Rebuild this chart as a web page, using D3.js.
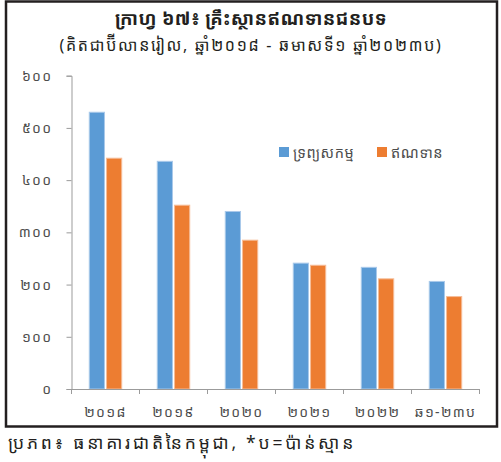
<!DOCTYPE html>
<html>
<head>
<meta charset="utf-8">
<script src="https://cdn.jsdelivr.net/npm/d3@7"></script>
<style>
  html, body { margin: 0; padding: 0; background: #fff; }
  svg { display: block; }
  text { font-family: "Noto Sans Khmer", "Khmer OS", "Noto Serif Khmer", "Noto Sans", sans-serif; }
</style>
</head>
<body>
<svg id="chart" width="501" height="462"></svg>
<script>
// Categories (Khmer years), series values in billion riel
const categories = ["២០១៨", "២០១៩", "២០២០", "២០២១", "២០២២", "ឆ១-២៣ប"];
const assets = [530, 436, 340, 241, 233, 206];
const loans = [442, 352, 285, 237, 211, 177];
const seriesNames = ["ទ្រព្យសកម្ម", "ឥណទាន"];
const seriesColors = ["#5b9bd5", "#ed7d31"];
const yTicks = [0, 100, 200, 300, 400, 500, 600];
const yTickLabels = ["០", "១០០", "២០០", "៣០០", "៤០០", "៥០០", "៦០០"];

const title = "ក្រាហ្វ ៦៧៖ គ្រឹះស្ថានឥណទានជនបទ";
const subtitle = "(គិតជាប៊ីលានរៀល, ឆ្នាំ២០១៨ - ឆមាសទី១ ឆ្នាំ២០២៣ប)";
const source = "ប្រភព៖ ធនាគារជាតិនៃកម្ពុជា, *ប=ប៉ាន់ស្មាន";

const svg = d3.select("#chart");

// outer frame
svg.append("rect")
  .attr("x", 6).attr("y", 1.5)
  .attr("width", 491).attr("height", 425)
  .attr("fill", "none").attr("stroke", "#231f20").attr("stroke-width", 2.5);

svg.append("text")
  .attr("x", 251).attr("y", 25)
  .attr("text-anchor", "middle")
  .attr("font-size", 18.5).attr("font-weight", "bold").attr("fill", "#231f20")
  .attr("letter-spacing", 0.4)
  .text(title);

svg.append("text")
  .attr("x", 251).attr("y", 51)
  .attr("text-anchor", "middle")
  .attr("font-size", 16).attr("fill", "#231f20")
  .attr("letter-spacing", 1.7)
  .text(subtitle);

const plot = { left: 71.5, right: 479.5, top: 75.7, bottom: 389 };

const x = d3.scaleBand()
  .domain(categories)
  .range([plot.left, plot.right])
  .paddingInner(0).paddingOuter(0);

const xInner = d3.scaleBand()
  .domain([0, 1])
  .range([0, x.bandwidth()])
  .paddingInner(0.12)
  .paddingOuter(1.03);

const y = d3.scaleLinear().domain([0, 600]).range([plot.bottom, plot.top]);

// bars
const groups = svg.append("g").selectAll("g")
  .data(categories)
  .join("g")
  .attr("transform", d => `translate(${x(d)},0)`);

groups.selectAll("rect")
  .data((d, i) => [assets[i], loans[i]])
  .join("rect")
  .attr("x", (d, j) => xInner(j))
  .attr("width", xInner.bandwidth())
  .attr("y", d => y(d))
  .attr("height", d => y(0) - y(d))
  .attr("fill", (d, j) => seriesColors[j])
  .attr("stroke", (d, j) => j === 0 ? "#a9c9ea" : "#f6bd98")
  .attr("stroke-width", 1);

const tickFont = "\"Noto Sans Khmer\", \"Khmer OS\", sans-serif";

// y axis
const yAxis = d3.axisLeft(y)
  .tickValues(yTicks)
  .tickFormat((d, i) => yTickLabels[i])
  .tickSize(5)
  .tickPadding(14);

const gy = svg.append("g")
  .attr("transform", `translate(${plot.left},0)`)
  .call(yAxis);
gy.select(".domain").attr("stroke", "#9b9b9b");
gy.selectAll(".tick line").attr("stroke", "#9b9b9b");
gy.selectAll(".tick text")
  .attr("font-size", 14).attr("fill", "#4d4d4d")
  .attr("letter-spacing", 1.3)
  .style("font-family", tickFont);

// x axis with ticks on category boundaries
const xAxis = d3.axisBottom(x).tickSize(0).tickPadding(18);
const gx = svg.append("g")
  .attr("transform", `translate(0,${plot.bottom})`)
  .call(xAxis);
gx.select(".domain").attr("stroke", "#9b9b9b");
gx.selectAll(".tick text")
  .attr("font-size", 14).attr("fill", "#4d4d4d")
  .attr("letter-spacing", 1.3)
  .style("font-family", tickFont);

const boundaries = categories.map(c => x(c)).concat([x(categories[categories.length - 1]) + x.bandwidth()]);
gx.selectAll(".bound")
  .data(boundaries)
  .join("line")
  .attr("class", "bound")
  .attr("x1", d => d).attr("x2", d => d)
  .attr("y1", 0).attr("y2", 5)
  .attr("stroke", "#9b9b9b");

// legend
const legend = svg.append("g");
const legendX = [279, 377];
seriesNames.forEach((name, i) => {
  legend.append("rect")
    .attr("x", legendX[i]).attr("y", 147)
    .attr("width", 10).attr("height", 10)
    .attr("fill", seriesColors[i]);
  legend.append("text")
    .attr("x", legendX[i] + 14).attr("y", 157.5)
    .attr("font-size", 14.5).attr("fill", "#4d4d4d")
    .attr("letter-spacing", 0.6)
    .text(name);
});

// source note
svg.append("text")
  .attr("x", 8).attr("y", 449)
  .attr("font-size", 17.5).attr("fill", "#231f20")
  .attr("letter-spacing", 2.8)
  .text(source);
</script>
</body>
</html>
